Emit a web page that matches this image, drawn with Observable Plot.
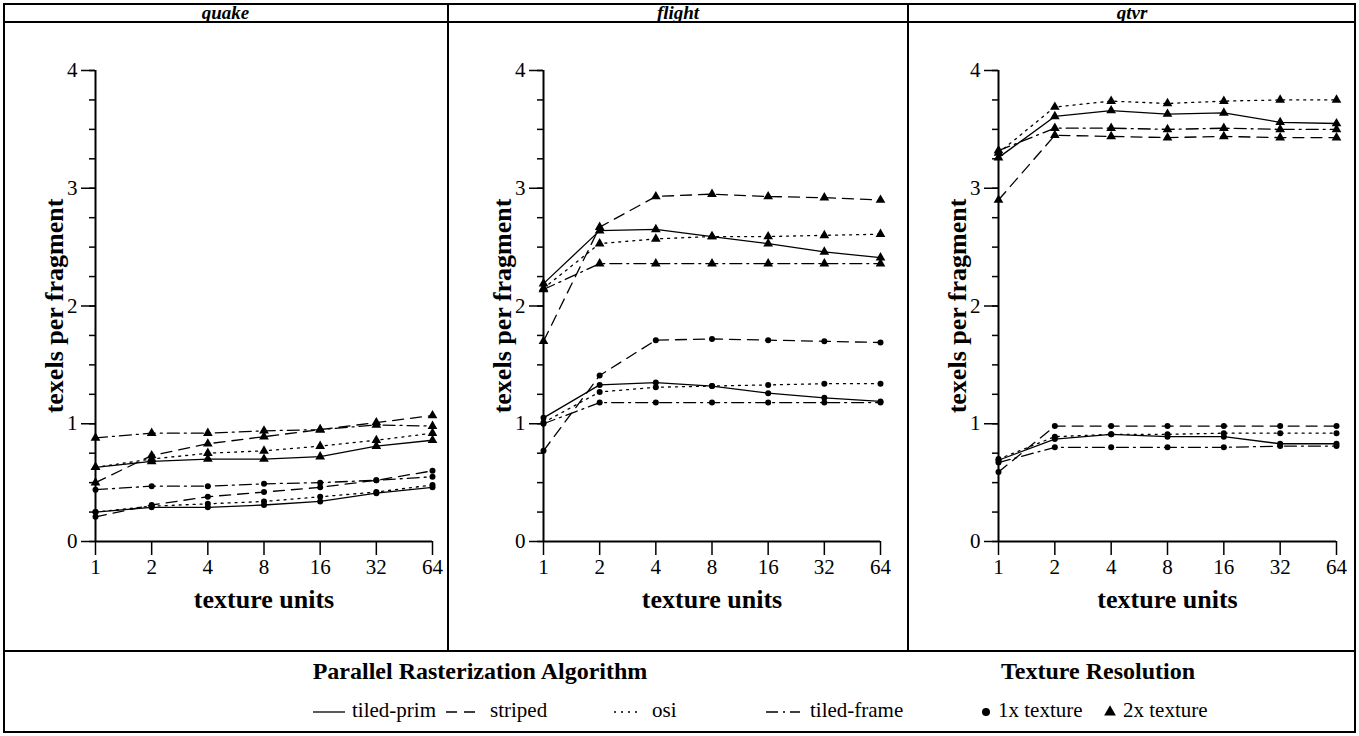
<!DOCTYPE html>
<html>
<head>
<meta charset="utf-8">
<script src="https://cdn.jsdelivr.net/npm/d3@7"></script>
<script src="https://cdn.jsdelivr.net/npm/@observablehq/plot@0.6"></script>
<style>
  html, body { margin: 0; padding: 0; background: #fff; }
  body { width: 1359px; height: 736px; position: relative; overflow: hidden; font-family: "Liberation Serif", "DejaVu Serif", serif; color: #000; }
  .abs { position: absolute; }
  .hline { position: absolute; height: 0; border-top: 2px solid #000; }
  .vline { position: absolute; width: 0; border-left: 2px solid #000; }
  .ptitle { position: absolute; top: 3px; height: 19px; line-height: 19px; text-align: center; font-weight: bold; font-style: italic; font-size: 19px; }
</style>
</head>
<body>
<div class="abs" style="left:3px;top:3px;width:1353px;height:730px;box-sizing:border-box;border:2px solid #000;"></div>
<div class="hline" style="left:3px;top:21px;width:1353px;"></div>
<div class="hline" style="left:3px;top:650px;width:1353px;"></div>
<div class="vline" style="left:447px;top:3px;height:647px;"></div>
<div class="vline" style="left:907px;top:3px;height:647px;"></div>
<div id="panels"></div>
<div id="legend" class="abs" style="left:0;top:650px;"></div>
<script>
// ---------------- data ----------------
const units = [1, 2, 4, 8, 16, 32, 64];
const panelNames = ["quake", "flight", "qtvr"];
const algorithms = ["tiled-prim", "striped", "osi", "tiled-frame"];
const resolutions = ["1x texture", "2x texture"];
const yTicks = [0, 1, 2, 3, 4];
const xLabel = "texture units";
const yLabel = "texels per fragment";
const legendTitleAlg = "Parallel Rasterization Algorithm";
const legendTitleRes = "Texture Resolution";

// quake
const quakeTiledPrim1x  = [0.25, 0.29, 0.29, 0.31, 0.34, 0.41, 0.46];
const quakeStriped1x    = [0.21, 0.31, 0.38, 0.42, 0.46, 0.52, 0.60];
const quakeOsi1x        = [0.25, 0.30, 0.32, 0.34, 0.38, 0.42, 0.48];
const quakeTiledFrame1x = [0.44, 0.47, 0.47, 0.49, 0.50, 0.52, 0.55];
const quakeTiledPrim2x  = [0.63, 0.68, 0.70, 0.70, 0.72, 0.81, 0.86];
const quakeStriped2x    = [0.50, 0.73, 0.83, 0.89, 0.95, 1.01, 1.07];
const quakeOsi2x        = [0.63, 0.70, 0.75, 0.77, 0.81, 0.86, 0.92];
const quakeTiledFrame2x = [0.88, 0.92, 0.92, 0.94, 0.95, 0.99, 0.98];
// flight
const flightTiledPrim1x  = [1.05, 1.33, 1.35, 1.32, 1.26, 1.22, 1.19];
const flightStriped1x    = [0.77, 1.41, 1.71, 1.72, 1.71, 1.70, 1.69];
const flightOsi1x        = [1.01, 1.27, 1.31, 1.32, 1.33, 1.34, 1.34];
const flightTiledFrame1x = [1.00, 1.18, 1.18, 1.18, 1.18, 1.18, 1.18];
const flightTiledPrim2x  = [2.19, 2.64, 2.65, 2.59, 2.53, 2.46, 2.41];
const flightStriped2x    = [1.70, 2.67, 2.93, 2.95, 2.93, 2.92, 2.90];
const flightOsi2x        = [2.15, 2.53, 2.57, 2.59, 2.59, 2.60, 2.61];
const flightTiledFrame2x = [2.14, 2.36, 2.36, 2.36, 2.36, 2.36, 2.36];
// qtvr
const qtvrTiledPrim1x  = [0.69, 0.87, 0.91, 0.89, 0.89, 0.83, 0.83];
const qtvrStriped1x    = [0.59, 0.98, 0.98, 0.98, 0.98, 0.98, 0.98];
const qtvrOsi1x        = [0.70, 0.89, 0.91, 0.91, 0.92, 0.92, 0.92];
const qtvrTiledFrame1x = [0.67, 0.80, 0.80, 0.80, 0.80, 0.81, 0.81];
const qtvrTiledPrim2x  = [3.26, 3.61, 3.66, 3.63, 3.64, 3.56, 3.55];
const qtvrStriped2x    = [2.90, 3.45, 3.44, 3.43, 3.44, 3.43, 3.43];
const qtvrOsi2x        = [3.30, 3.69, 3.74, 3.72, 3.74, 3.75, 3.75];
const qtvrTiledFrame2x = [3.32, 3.51, 3.51, 3.50, 3.51, 3.50, 3.50];

const seriesByPanel = {
  quake:  [[quakeTiledPrim1x, quakeStriped1x, quakeOsi1x, quakeTiledFrame1x], [quakeTiledPrim2x, quakeStriped2x, quakeOsi2x, quakeTiledFrame2x]],
  flight: [[flightTiledPrim1x, flightStriped1x, flightOsi1x, flightTiledFrame1x], [flightTiledPrim2x, flightStriped2x, flightOsi2x, flightTiledFrame2x]],
  qtvr:   [[qtvrTiledPrim1x, qtvrStriped1x, qtvrOsi1x, qtvrTiledFrame1x], [qtvrTiledPrim2x, qtvrStriped2x, qtvrOsi2x, qtvrTiledFrame2x]]
};

// ---------------- styles / layout ----------------
const dashes = {"tiled-prim": null, "striped": "11,7", "osi": "2,5", "tiled-frame": "12,5,2,5"};
const symbols = {"1x texture": "circle", "2x texture": "triangle"};
const layout = [
  {left: 3,   width: 445, ml: 92, mr: 16},
  {left: 448, width: 460, ml: 95, mr: 28},
  {left: 908, width: 448, ml: 90, mr: 20}
];
const FONT = '"Liberation Serif", "DejaVu Serif", serif';

const panelsDiv = document.getElementById("panels");
panelNames.forEach((name, i) => {
  const L = layout[i];
  const rows = [];
  resolutions.forEach((res, r) => {
    algorithms.forEach((alg, a) => {
      seriesByPanel[name][r][a].forEach((v, k) => rows.push({units: units[k], value: v, alg, res}));
    });
  });
  const lineMarks = algorithms.map(alg => Plot.line(rows.filter(d => d.alg === alg), {
    x: "units", y: "value", z: "res", stroke: "black", strokeWidth: 1.3,
    strokeDasharray: dashes[alg] || undefined
  }));
  const chart = Plot.plot({
    width: L.width, height: 630,
    marginLeft: L.ml, marginRight: L.mr, marginTop: 50, marginBottom: 109,
    style: {fontFamily: FONT, fontSize: "21px", color: "black", background: "transparent", overflow: "visible"},
    x: {type: "log", base: 2, domain: [1, 64]},
    y: {domain: [0, 4]},
    marks: [
      Plot.axisY({ticks: d3.range(0, 4.001, 0.25), tickSize: 6, tickFormat: () => "", label: null, strokeWidth: 1.5}),
      Plot.axisY({ticks: yTicks, tickSize: 14, tickPadding: 4, fontSize: 21, tickFormat: d => String(d), label: null, strokeWidth: 1.5}),
      Plot.axisX({ticks: units, tickSize: 14, tickPadding: 4, fontSize: 21, tickFormat: d => String(d), label: null, strokeWidth: 1.5}),
      Plot.ruleX([1], {y1: 0, y2: 4, strokeWidth: 2}),
      Plot.ruleY([0], {x1: 1, x2: 64, strokeWidth: 2}),
      Plot.text([xLabel], {frameAnchor: "bottom", dy: 66, fontWeight: "bold", fontSize: 26, text: d => d}),
      Plot.text([yLabel], {frameAnchor: "left", textAnchor: "middle", dx: -41, rotate: -90, fontWeight: "bold", fontSize: 26, text: d => d}),
      ...lineMarks,
      Plot.dot(rows.filter(d => d.res === "1x texture"), {x: "units", y: "value", symbol: "circle", r: 3, fill: "black"}),
      Plot.dot(rows.filter(d => d.res === "2x texture"), {x: "units", y: "value", symbol: "triangle", r: 3.6, fill: "black"})
    ]
  });
  const holder = document.createElement("div");
  holder.className = "abs";
  holder.style.left = L.left + "px";
  holder.style.top = "20px";
  holder.appendChild(chart);
  panelsDiv.appendChild(holder);

  const t = document.createElement("div");
  t.className = "ptitle";
  t.style.left = L.left + "px";
  t.style.width = L.width + "px";
  t.textContent = name;
  document.body.appendChild(t);
});

// ---------------- legend ----------------
const svg = d3.select("#legend").append("svg").attr("width", 1359).attr("height", 84)
  .style("font-family", FONT);
svg.append("text").attr("x", 480).attr("y", 23).attr("text-anchor", "middle").attr("dominant-baseline", "middle")
  .attr("font-weight", "bold").attr("font-size", 24).text(legendTitleAlg);
svg.append("text").attr("x", 1098).attr("y", 23).attr("text-anchor", "middle").attr("dominant-baseline", "middle")
  .attr("font-weight", "bold").attr("font-size", 24).text(legendTitleRes);
const algPos = [
  {x1: 313, x2: 345, tx: 352},
  {x1: 446, x2: 478, tx: 490},
  {x1: 614, x2: 642, tx: 652},
  {x1: 766, x2: 800, tx: 810}
];
const ly = 62;
algorithms.forEach((alg, i) => {
  const p = algPos[i];
  svg.append("line").attr("x1", p.x1).attr("x2", p.x2).attr("y1", ly).attr("y2", ly)
    .attr("stroke", "black").attr("stroke-width", 1.3).attr("stroke-dasharray", dashes[alg] || null);
  svg.append("text").attr("x", p.tx).attr("y", ly).attr("dominant-baseline", "middle")
    .attr("font-size", 21).text(alg);
});
const resPos = [{sx: 986, tx: 998}, {sx: 1110, tx: 1123}];
resolutions.forEach((res, i) => {
  const p = resPos[i];
  const sym = symbols[res] === "circle" ? d3.symbolCircle : d3.symbolTriangle;
  svg.append("path").attr("d", d3.symbol(sym, symbols[res] === "circle" ? 50 : 60)())
    .attr("transform", `translate(${p.sx},${ly})`).attr("fill", "black");
  svg.append("text").attr("x", p.tx).attr("y", ly).attr("dominant-baseline", "middle")
    .attr("font-size", 21).text(res);
});
</script>
</body>
</html>
